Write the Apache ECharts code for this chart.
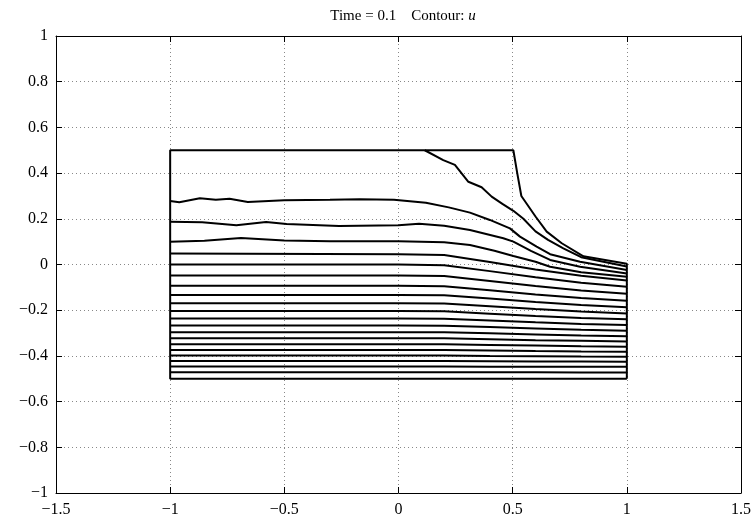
<!DOCTYPE html>
<html>
<head>
<meta charset="utf-8">
<script src="https://cdn.jsdelivr.net/npm/echarts@6/dist/echarts.min.js"></script>
<style>
  html, body { margin: 0; padding: 0; background: #fff; }
  #chart { width: 755px; height: 521px; }
</style>
</head>
<body>
<div id="chart"></div>
<script>
// axis ticks
const xTicks = [-1.5, -1, -0.5, 0, 0.5, 1, 1.5]
const yTicks = [-1, -0.8, -0.6, -0.4, -0.2, 0, 0.2, 0.4, 0.6, 0.8, 1]

// domain outline (closed), [x, y]
const outline = [
  [1, -0.5], [-1, -0.5], [-1, 0.5], [0.503, 0.5], [0.52, 0.4], [0.538, 0.3],
  [0.6, 0.21], [0.649, 0.144], [0.715, 0.093], [0.81, 0.036], [1, 0.003], [1, -0.5]
]

// contour leaving the top edge
const frontLine = [
  [0.115, 0.5], [0.196, 0.457], [0.247, 0.436], [0.306, 0.362], [0.364, 0.338],
  [0.408, 0.297], [0.455, 0.265], [0.503, 0.235], [0.547, 0.2], [0.6, 0.145],
  [0.655, 0.108], [0.722, 0.071], [0.8, 0.032], [1, -0.009]
]

// wavy contours near the top
const waveLine1 = [
  [-1, 0.278], [-0.96, 0.272], [-0.87, 0.29], [-0.8, 0.283], [-0.74, 0.288],
  [-0.66, 0.274], [-0.5, 0.281], [-0.3, 0.283], [-0.17, 0.286], [-0.02, 0.283],
  [0.12, 0.27], [0.22, 0.25], [0.313, 0.227], [0.4, 0.195], [0.488, 0.158],
  [0.532, 0.122], [0.605, 0.078], [0.664, 0.045], [0.795, 0.012], [1, -0.024]
]
const waveLine2 = [
  [-1, 0.187], [-0.86, 0.185], [-0.71, 0.172], [-0.58, 0.186], [-0.49, 0.177],
  [-0.26, 0.168], [0, 0.172], [0.09, 0.178], [0.2, 0.17], [0.313, 0.151],
  [0.459, 0.115], [0.503, 0.1], [0.58, 0.06], [0.664, 0.02], [0.795, -0.01], [1, -0.039]
]
const waveLine3 = [
  [-1, 0.1], [-0.85, 0.104], [-0.69, 0.116], [-0.5, 0.105], [-0.3, 0.102],
  [0, 0.102], [0.2, 0.097], [0.313, 0.085], [0.42, 0.06], [0.503, 0.037],
  [0.6, 0.012], [0.664, -0.01], [0.8, -0.034], [1, -0.054]
]

// lower contours, y sampled at these x positions
const xCols = [-1, 0, 0.2, 0.4, 0.6, 0.8, 1]
const lowerLevels = [
  [0.048, 0.045, 0.042, 0.011, -0.022, -0.049, -0.07],
  [0.0, 0.0, -0.003, -0.029, -0.056, -0.08, -0.097],
  [-0.048, -0.048, -0.05, -0.072, -0.094, -0.114, -0.128],
  [-0.093, -0.093, -0.095, -0.113, -0.131, -0.147, -0.159],
  [-0.133, -0.133, -0.135, -0.149, -0.164, -0.177, -0.187],
  [-0.17, -0.17, -0.171, -0.183, -0.195, -0.206, -0.214],
  [-0.204, -0.204, -0.205, -0.215, -0.225, -0.234, -0.24],
  [-0.236, -0.236, -0.237, -0.245, -0.253, -0.26, -0.265],
  [-0.267, -0.267, -0.268, -0.274, -0.28, -0.286, -0.29],
  [-0.296, -0.296, -0.297, -0.301, -0.306, -0.311, -0.314],
  [-0.323, -0.323, -0.323, -0.327, -0.331, -0.334, -0.337],
  [-0.349, -0.349, -0.349, -0.352, -0.355, -0.358, -0.36],
  [-0.374, -0.374, -0.374, -0.376, -0.379, -0.381, -0.382],
  [-0.398, -0.398, -0.398, -0.4, -0.401, -0.403, -0.404],
  [-0.422, -0.422, -0.422, -0.423, -0.424, -0.425, -0.426],
  [-0.446, -0.446, -0.446, -0.447, -0.447, -0.448, -0.448],
  [-0.472, -0.472, -0.472, -0.472, -0.472, -0.473, -0.473]
]

const FONT = 'Liberation Serif'

function fmt(v) {
  return String(+(+v).toFixed(1)).replace('-', '\u2212')
}

function contour(data) {
  return {
    type: 'line',
    data: data,
    showSymbol: false,
    symbol: 'none',
    silent: true,
    animation: false,
    lineStyle: { color: '#000', width: 2 }
  }
}

const series = [contour(outline), contour(frontLine), contour(waveLine1), contour(waveLine2), contour(waveLine3)]
lowerLevels.forEach(row => {
  series.push(contour(row.map((y, i) => [xCols[i], y])))
})

const gridLine = {
  show: true,
  lineStyle: { color: '#888', type: [1, 3], width: 1 }
}
const axisLine = { show: true, onZero: false, lineStyle: { color: '#000', width: 1 } }
const tick = { show: true, inside: true, length: 6, lineStyle: { color: '#000', width: 1 } }

const chart = echarts.init(document.getElementById('chart'))
chart.setOption({
  backgroundColor: '#fff',
  animation: false,
  title: {
    text: '{a|Time = 0.1    Contour: }{u|u}',
    left: 398,
    top: 4,
    textAlign: 'center',
    textStyle: {
      rich: {
        a: { fontFamily: FONT, fontSize: 15, fontWeight: 'normal', color: '#000' },
        u: { fontFamily: FONT, fontSize: 15, fontWeight: 'normal', fontStyle: 'italic', color: '#000' }
      }
    }
  },
  grid: { left: 56, right: 14, top: 36, bottom: 28 },
  xAxis: [{
    type: 'value',
    min: xTicks[0],
    max: xTicks[xTicks.length - 1],
    interval: 0.5,
    axisLine: axisLine,
    axisTick: tick,
    splitLine: gridLine,
    axisLabel: { formatter: fmt, fontFamily: FONT, fontSize: 16, color: '#000', margin: 9 }
  }, {
    type: 'value',
    position: 'top',
    min: xTicks[0],
    max: xTicks[xTicks.length - 1],
    interval: 0.5,
    axisLine: axisLine,
    axisTick: tick,
    splitLine: { show: false },
    axisLabel: { show: false }
  }],
  yAxis: [{
    type: 'value',
    min: yTicks[0],
    max: yTicks[yTicks.length - 1],
    interval: 0.2,
    axisLine: axisLine,
    axisTick: tick,
    splitLine: gridLine,
    axisLabel: { formatter: fmt, fontFamily: FONT, fontSize: 16, color: '#000', margin: 8 }
  }, {
    type: 'value',
    position: 'right',
    min: yTicks[0],
    max: yTicks[yTicks.length - 1],
    interval: 0.2,
    axisLine: axisLine,
    axisTick: tick,
    splitLine: { show: false },
    axisLabel: { show: false }
  }],
  series: series
})
</script>
</body>
</html>
